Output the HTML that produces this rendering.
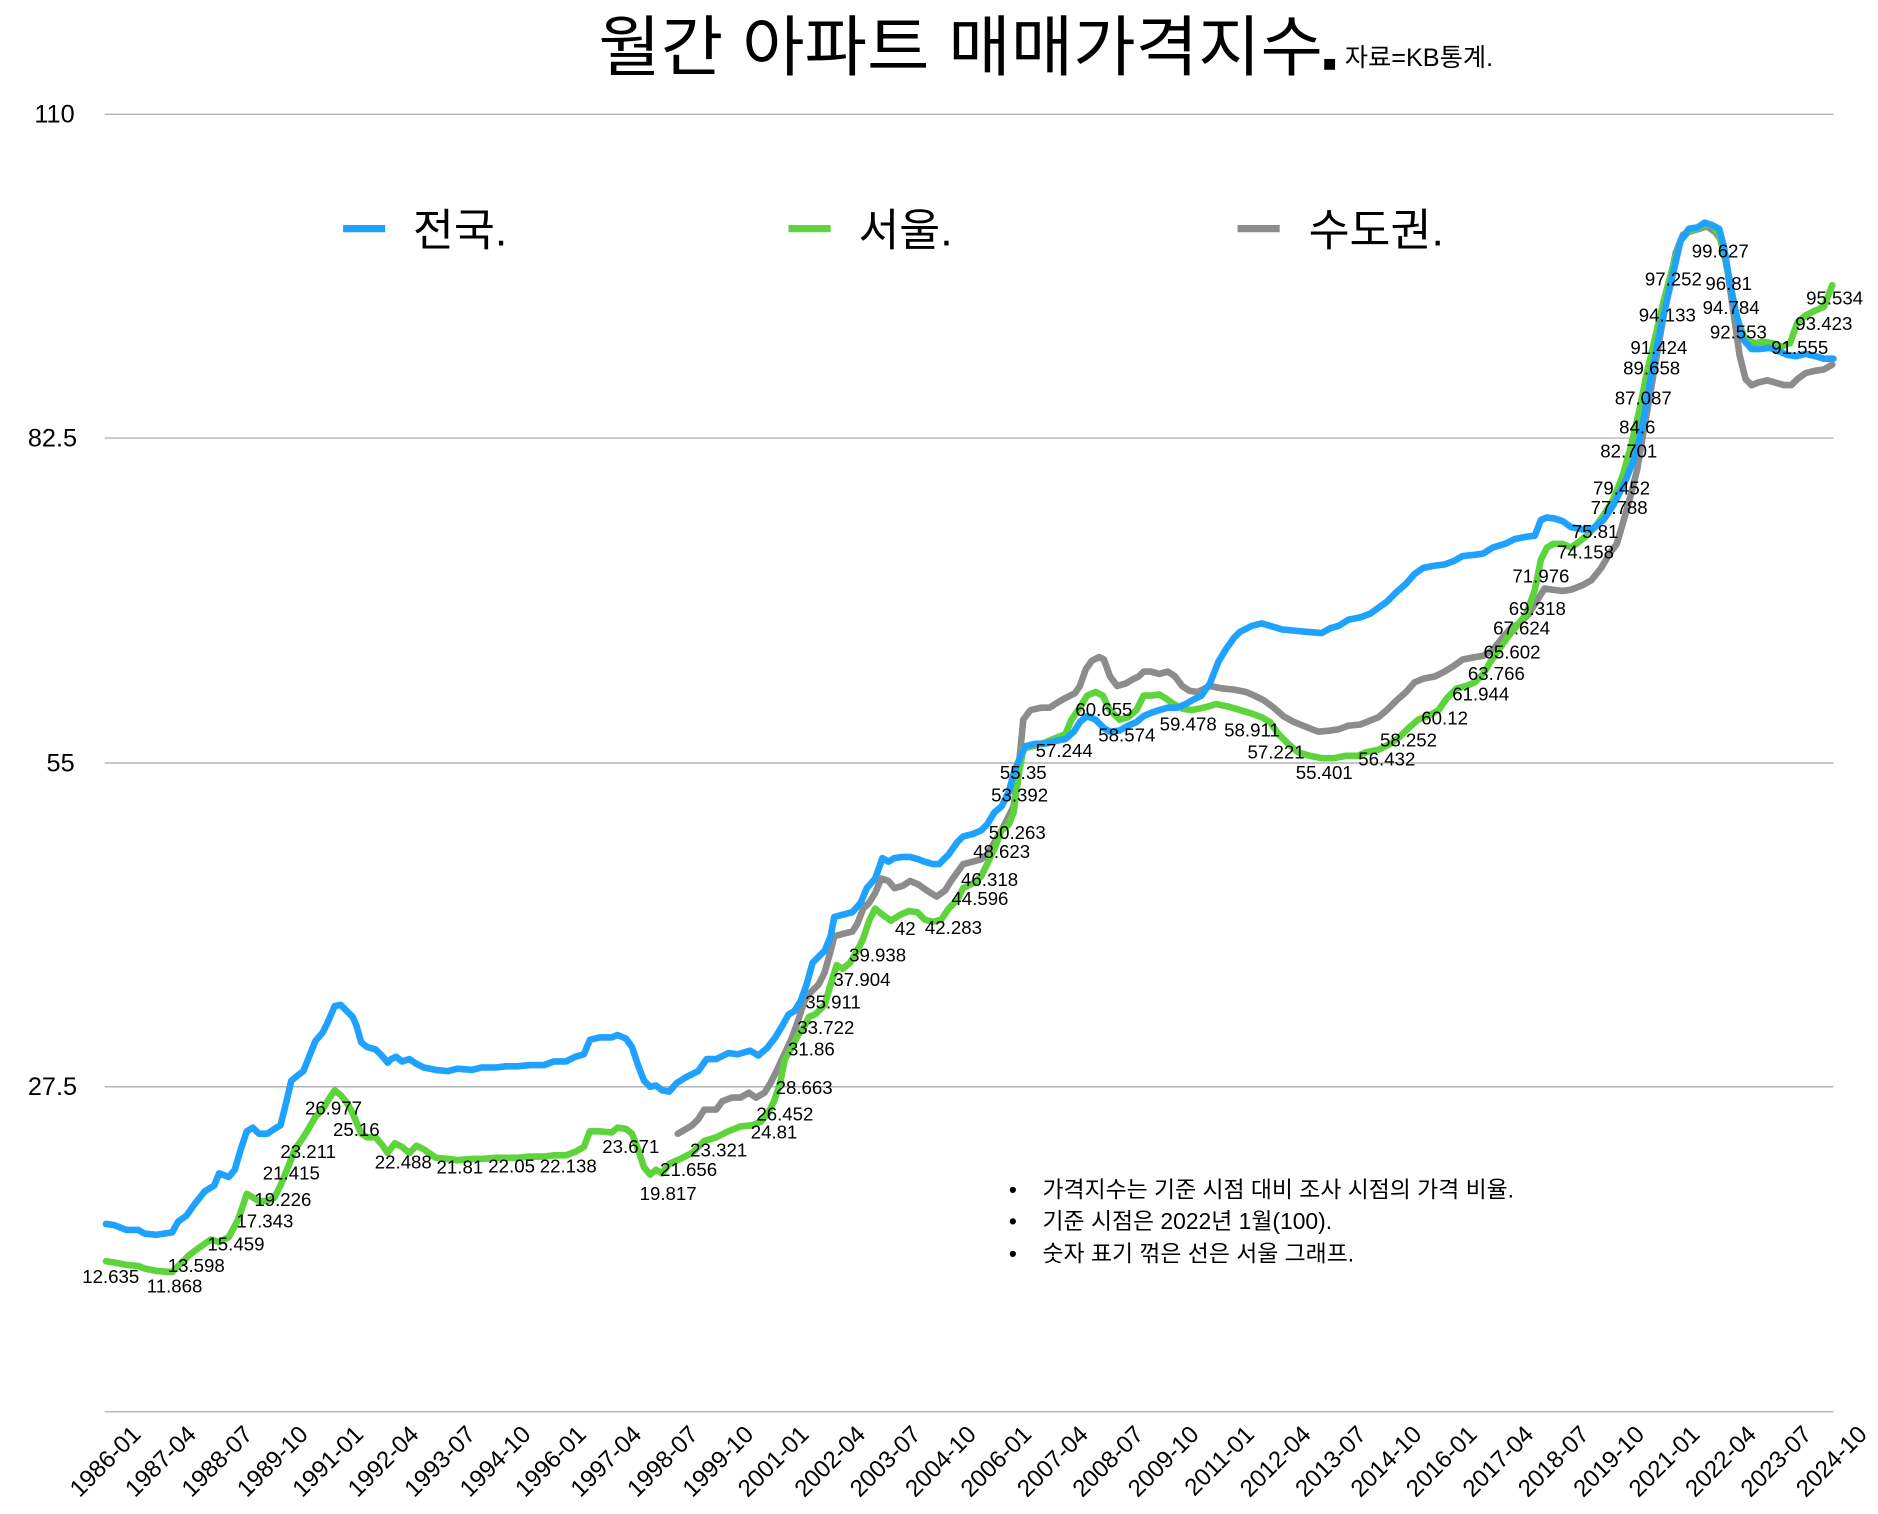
<!DOCTYPE html>
<html><head><meta charset="utf-8"><style>
html,body{margin:0;padding:0;background:#fff;}
svg{display:block;}
text{font-family:"Liberation Sans","Noto Sans CJK KR",sans-serif;fill:#000;}
.dl{font-size:15.5px;text-anchor:middle;dominant-baseline:middle;}
.yl{font-size:21px;text-anchor:end;}
.xl{font-size:20px;text-anchor:end;}
.nt{font-size:19px;}
</style></head><body>
<svg width="1878" height="1514" viewBox="0 0 1560 1258" preserveAspectRatio="none" xmlns="http://www.w3.org/2000/svg">
<rect width="1560" height="1258" fill="#fff"/>
<text x="497" y="58" font-size="55" textLength="602" lengthAdjust="spacingAndGlyphs">월간 아파트 매매가격지수</text>
<rect x="1100" y="49" width="9" height="9" fill="#000"/>
<text x="1117" y="55" font-size="21">자료=KB통계.</text>
<g stroke="#b3b3b3" stroke-width="1.2">
<line x1="87" y1="95" x2="1523" y2="95"/><line x1="87" y1="364" x2="1523" y2="364"/>
<line x1="87" y1="634" x2="1523" y2="634"/><line x1="87" y1="903" x2="1523" y2="903"/>
<line x1="87" y1="1173" x2="1523" y2="1173"/></g>
<text class="yl" x="62" y="102">110</text><text class="yl" x="64" y="371">82.5</text>
<text class="yl" x="62" y="641">55</text><text class="yl" x="64" y="910">27.5</text>
<g stroke-width="6">
<line x1="285" y1="190" x2="320" y2="190" stroke="#1fa2ff"/>
<line x1="655" y1="190" x2="690" y2="190" stroke="#5ed43c"/>
<line x1="1028" y1="190" x2="1063" y2="190" stroke="#8c8c8c"/></g>
<text x="343" y="204" font-size="37">전국.</text>
<text x="713" y="204" font-size="37">서울.</text>
<text x="1087" y="204" font-size="37">수도권.</text>
<g fill="none" stroke-width="5.5" stroke-linejoin="round" stroke-linecap="round">
<polyline stroke="#8c8c8c" points="563,942 570,938 575,935 580,930 585,922 595,922 600,915 608,912 615,912 622,908 628,912 635,908 640,900 645,890 652,875 658,862 663,848 668,832 673,825 680,818 685,808 690,790 693,778 700,776 708,774 712,768 717,755 722,750 727,742 732,730 738,732 743,738 750,736 756,732 763,735 770,740 778,745 785,740 790,732 795,725 800,718 808,716 815,714 820,710 826,700 832,690 838,678 842,670 846,640 850,598 856,590 865,588 872,588 878,584 885,580 893,576 897,570 902,556 907,549 913,546 917,548 922,562 928,570 935,568 940,565 946,562 950,558 956,558 963,560 970,558 976,562 982,570 988,574 995,575 1005,570 1015,572 1025,573 1035,575 1042,578 1050,582 1058,588 1066,595 1075,600 1085,604 1095,608 1105,607 1112,606 1120,603 1130,602 1135,600 1145,596 1152,590 1160,582 1168,575 1175,567 1182,564 1192,562 1200,558 1208,553 1215,548 1225,546 1232,545 1240,540 1248,530 1255,522 1262,518 1270,510 1278,497 1283,489 1290,490 1298,491 1305,490 1315,486 1322,482 1330,472 1337,460 1343,452 1348,435 1355,410 1360,390 1365,360 1372,320 1378,285 1385,245 1392,210 1398,195 1405,192 1412,190 1418,188 1425,193 1430,200 1435,225 1440,260 1445,295 1450,315 1455,320 1460,318 1468,316 1475,318 1482,320 1488,320 1493,315 1500,310 1508,308 1515,307 1522,303"/>
<polyline stroke="#5ed43c" points="88,1048 95,1049 105,1051 115,1052 120,1054 130,1056 143,1057 150,1050 157,1043 165,1037 175,1030 182,1032 190,1028 198,1013 205,992 210,995 215,998 222,998 228,995 233,985 240,968 245,955 252,945 258,935 262,928 268,922 272,915 278,906 283,910 288,916 293,925 300,942 305,945 312,945 318,952 322,958 328,950 334,953 340,958 346,952 352,955 362,962 372,963 380,964 392,963 400,963 412,962 420,962 430,962 440,961 452,961 460,960 470,960 478,957 485,953 490,940 498,940 508,941 513,937 520,938 525,942 530,955 535,970 540,976 545,972 550,975 556,967 565,963 575,958 585,948 595,945 605,940 615,936 625,935 632,932 638,925 643,915 648,900 652,880 658,870 663,860 668,853 672,845 677,843 685,835 690,818 695,802 700,805 706,800 712,790 717,780 722,765 727,755 733,760 740,765 748,760 755,757 762,758 768,764 775,766 782,764 788,755 795,748 800,738 810,733 815,728 820,718 826,705 832,690 838,685 842,675 846,645 850,622 858,620 868,617 875,614 885,610 890,598 897,588 903,578 910,575 916,578 922,590 930,598 937,596 944,590 950,578 957,578 963,577 968,580 975,585 983,589 990,590 1000,588 1010,585 1020,587 1030,590 1040,593 1048,596 1055,600 1062,610 1070,618 1078,625 1088,628 1098,630 1108,630 1118,628 1128,628 1135,625 1145,623 1155,618 1163,612 1170,605 1178,598 1188,594 1195,590 1202,580 1210,572 1218,570 1225,567 1232,560 1238,550 1245,540 1252,530 1260,520 1268,510 1275,490 1280,465 1285,455 1290,452 1298,452 1305,455 1312,450 1318,445 1325,438 1332,428 1340,415 1348,395 1355,370 1362,340 1368,310 1375,280 1382,250 1390,220 1396,200 1403,192 1410,190 1416,187 1422,187 1428,195 1433,215 1438,240 1443,265 1450,283 1458,285 1465,284 1472,285 1480,288 1487,285 1493,268 1500,262 1508,258 1515,255 1522,237"/>
<polyline stroke="#1fa2ff" points="88,1017 95,1018 105,1022 115,1022 120,1025 130,1026 143,1024 148,1015 155,1010 162,1000 170,990 178,985 182,975 190,978 195,972 200,955 205,940 210,937 215,942 222,942 228,938 233,935 238,915 242,898 248,893 252,890 256,880 262,865 268,858 272,850 278,836 283,835 288,840 293,845 296,852 300,866 305,870 312,872 318,878 322,883 325,880 329,878 334,882 340,880 346,884 352,887 362,889 372,890 380,888 392,889 400,887 412,887 420,886 430,886 440,885 452,885 460,882 470,882 478,878 485,876 490,864 498,862 508,862 513,860 520,863 525,870 530,885 535,898 540,903 545,902 550,906 556,907 562,900 570,895 580,890 587,880 595,880 605,875 613,876 623,873 630,877 637,871 644,862 650,852 655,843 660,840 665,832 670,818 675,800 680,795 685,790 690,778 693,762 700,760 708,758 715,750 720,738 727,730 733,713 738,716 743,713 750,712 756,712 763,714 768,716 775,718 780,718 788,710 795,700 800,695 808,693 815,690 820,685 826,675 832,670 838,658 842,643 847,630 852,620 860,618 868,618 875,616 885,614 892,608 897,600 903,595 910,598 917,605 922,608 930,607 937,603 944,600 950,595 957,592 963,590 970,588 978,588 985,585 990,582 998,578 1005,568 1012,550 1018,540 1025,530 1030,525 1040,520 1048,518 1055,520 1065,523 1075,524 1085,525 1098,526 1105,522 1112,520 1120,515 1130,513 1138,510 1145,505 1152,500 1160,492 1168,485 1175,477 1182,472 1192,470 1200,469 1208,466 1215,462 1225,461 1232,460 1240,455 1250,452 1258,448 1268,446 1275,445 1280,432 1285,430 1292,431 1298,433 1305,438 1315,440 1322,440 1332,432 1340,420 1350,400 1358,380 1365,350 1372,310 1380,270 1388,235 1396,200 1403,190 1410,189 1416,185 1422,187 1428,190 1432,205 1437,235 1442,260 1448,282 1455,290 1462,290 1470,289 1478,292 1485,295 1492,296 1500,294 1508,296 1515,298 1523,298"/>
</g>
<g>
<text class="dl" x="92" y="1062">12.635</text><text class="dl" x="145" y="1070">11.868</text>
<text class="dl" x="163" y="1053">13.598</text><text class="dl" x="196" y="1035">15.459</text>
<text class="dl" x="220" y="1016">17.343</text><text class="dl" x="235" y="998">19.226</text>
<text class="dl" x="242" y="976">21.415</text><text class="dl" x="256" y="958">23.211</text>
<text class="dl" x="277" y="922">26.977</text><text class="dl" x="296" y="940">25.16</text>
<text class="dl" x="335" y="967">22.488</text><text class="dl" x="382" y="971">21.81</text>
<text class="dl" x="425" y="970">22.05</text><text class="dl" x="472" y="970">22.138</text>
<text class="dl" x="524" y="954">23.671</text><text class="dl" x="572" y="973">21.656</text>
<text class="dl" x="555" y="993">19.817</text><text class="dl" x="597" y="957">23.321</text>
<text class="dl" x="643" y="942">24.81</text><text class="dl" x="652" y="927">26.452</text>
<text class="dl" x="668" y="905">28.663</text><text class="dl" x="674" y="873">31.86</text>
<text class="dl" x="686" y="855">33.722</text><text class="dl" x="692" y="834">35.911</text>
<text class="dl" x="716" y="815">37.904</text><text class="dl" x="729" y="795">39.938</text>
<text class="dl" x="752" y="773">42</text><text class="dl" x="792" y="772">42.283</text>
<text class="dl" x="814" y="748">44.596</text><text class="dl" x="822" y="732">46.318</text>
<text class="dl" x="832" y="709">48.623</text><text class="dl" x="845" y="693">50.263</text>
<text class="dl" x="847" y="662">53.392</text><text class="dl" x="850" y="643">55.35</text>
<text class="dl" x="884" y="625">57.244</text><text class="dl" x="917" y="591">60.655</text>
<text class="dl" x="936" y="612">58.574</text><text class="dl" x="987" y="603">59.478</text>
<text class="dl" x="1040" y="608">58.911</text><text class="dl" x="1060" y="626">57.221</text>
<text class="dl" x="1100" y="643">55.401</text><text class="dl" x="1152" y="632">56.432</text>
<text class="dl" x="1170" y="616">58.252</text><text class="dl" x="1200" y="598">60.12</text>
<text class="dl" x="1230" y="578">61.944</text><text class="dl" x="1243" y="561">63.766</text>
<text class="dl" x="1256" y="543">65.602</text><text class="dl" x="1264" y="523">67.624</text>
<text class="dl" x="1277" y="507">69.318</text><text class="dl" x="1280" y="480">71.976</text>
<text class="dl" x="1317" y="460">74.158</text><text class="dl" x="1325" y="443">75.81</text>
<text class="dl" x="1345" y="423">77.788</text><text class="dl" x="1347" y="407">79.452</text>
<text class="dl" x="1353" y="376">82.701</text><text class="dl" x="1360" y="356">84.6</text>
<text class="dl" x="1365" y="332">87.087</text><text class="dl" x="1372" y="307">89.658</text>
<text class="dl" x="1378" y="290">91.424</text><text class="dl" x="1385" y="263">94.133</text>
<text class="dl" x="1390" y="233">97.252</text><text class="dl" x="1429" y="210">99.627</text>
<text class="dl" x="1436" y="237">96.81</text><text class="dl" x="1438" y="257">94.784</text>
<text class="dl" x="1444" y="277">92.553</text><text class="dl" x="1495" y="290">91.555</text>
<text class="dl" x="1515" y="270">93.423</text><text class="dl" x="1524" y="249">95.534</text>
</g>
<text class="nt" x="838" y="995">•</text><text class="nt" x="866" y="995">가격지수는 기준 시점 대비 조사 시점의 가격 비율.</text>
<text class="nt" x="838" y="1021">•</text><text class="nt" x="866" y="1021">기준 시점은 2022년 1월(100).</text>
<text class="nt" x="838" y="1048">•</text><text class="nt" x="866" y="1048">숫자 표기 꺾은 선은 서울 그래프.</text>
<g>
<text class="xl" transform="translate(118,1193) rotate(-45)">1986-01</text>
<text class="xl" transform="translate(164,1193) rotate(-45)">1987-04</text>
<text class="xl" transform="translate(211,1193) rotate(-45)">1988-07</text>
<text class="xl" transform="translate(257,1193) rotate(-45)">1989-10</text>
<text class="xl" transform="translate(303,1193) rotate(-45)">1991-01</text>
<text class="xl" transform="translate(349,1193) rotate(-45)">1992-04</text>
<text class="xl" transform="translate(396,1193) rotate(-45)">1993-07</text>
<text class="xl" transform="translate(442,1193) rotate(-45)">1994-10</text>
<text class="xl" transform="translate(488,1193) rotate(-45)">1996-01</text>
<text class="xl" transform="translate(534,1193) rotate(-45)">1997-04</text>
<text class="xl" transform="translate(581,1193) rotate(-45)">1998-07</text>
<text class="xl" transform="translate(627,1193) rotate(-45)">1999-10</text>
<text class="xl" transform="translate(673,1193) rotate(-45)">2001-01</text>
<text class="xl" transform="translate(720,1193) rotate(-45)">2002-04</text>
<text class="xl" transform="translate(766,1193) rotate(-45)">2003-07</text>
<text class="xl" transform="translate(812,1193) rotate(-45)">2004-10</text>
<text class="xl" transform="translate(858,1193) rotate(-45)">2006-01</text>
<text class="xl" transform="translate(905,1193) rotate(-45)">2007-04</text>
<text class="xl" transform="translate(951,1193) rotate(-45)">2008-07</text>
<text class="xl" transform="translate(997,1193) rotate(-45)">2009-10</text>
<text class="xl" transform="translate(1043,1193) rotate(-45)">2011-01</text>
<text class="xl" transform="translate(1090,1193) rotate(-45)">2012-04</text>
<text class="xl" transform="translate(1136,1193) rotate(-45)">2013-07</text>
<text class="xl" transform="translate(1182,1193) rotate(-45)">2014-10</text>
<text class="xl" transform="translate(1228,1193) rotate(-45)">2016-01</text>
<text class="xl" transform="translate(1275,1193) rotate(-45)">2017-04</text>
<text class="xl" transform="translate(1321,1193) rotate(-45)">2018-07</text>
<text class="xl" transform="translate(1367,1193) rotate(-45)">2019-10</text>
<text class="xl" transform="translate(1413,1193) rotate(-45)">2021-01</text>
<text class="xl" transform="translate(1460,1193) rotate(-45)">2022-04</text>
<text class="xl" transform="translate(1506,1193) rotate(-45)">2023-07</text>
<text class="xl" transform="translate(1552,1193) rotate(-45)">2024-10</text>
</g>
</svg>
</body></html>
